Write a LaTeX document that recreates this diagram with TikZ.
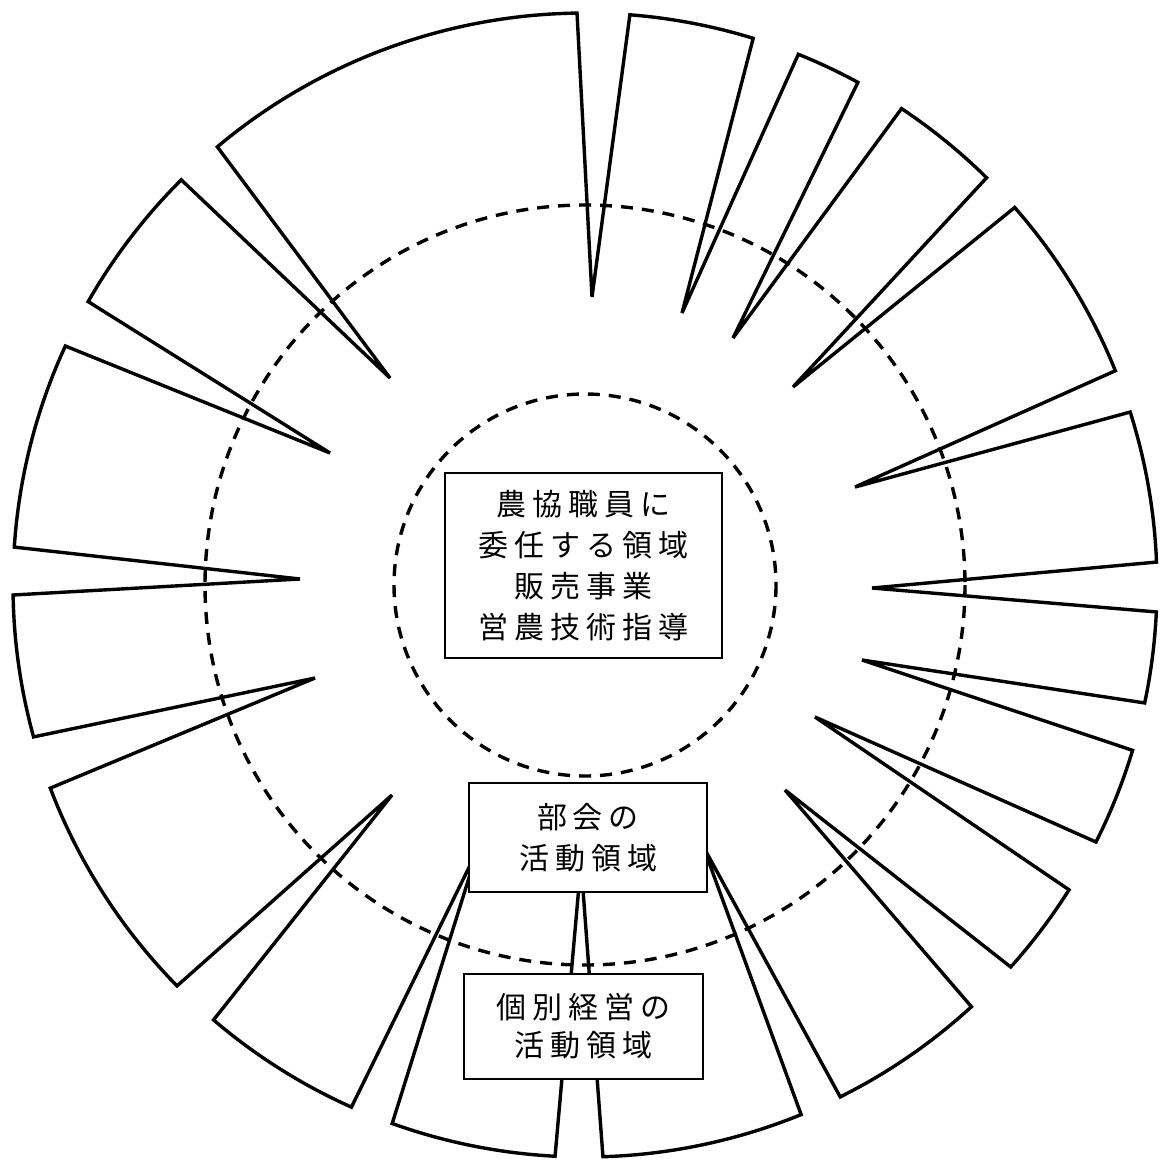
\documentclass[tikz,border=0pt]{standalone}
\usepackage{fontspec}
\newfontfamily\jp[LetterSpace=20]{Noto Sans CJK JP}
\begin{document}
\begin{tikzpicture}[x=1pt,y=-1pt,
  ring/.style={line width=3.4pt, line join=miter},
  dashcirc/.style={line width=3.4pt, dash pattern=on 12pt off 9pt},
  box/.style={draw, line width=1.6pt, fill=white, inner sep=0pt, align=center}]
\useasboundingbox (0,0) rectangle (1174,1160);
\coordinate (O) at (585,585);
% outline of sectors with inward notches
\draw[ring] (592,297)
  -- ([shift={(585,585)}]-85.5:572) arc[start angle=-85.5, end angle=-72.9, radius=572]
  -- (682,313)
  -- ([shift={(585,585)}]-68.1:572) arc[start angle=-68.1, end angle=-61.5, radius=572]
  -- (733,338)
  -- ([shift={(585,585)}]-56.4:572) arc[start angle=-56.4, end angle=-45.4, radius=572]
  -- (793,387)
  -- ([shift={(585,585)}]-41.3:572) arc[start angle=-41.3, end angle=-22.0, radius=572]
  -- (855,487)
  -- ([shift={(585,585)}]-17.6:572) arc[start angle=-17.6, end angle=-2.3, radius=572]
  -- (872,588)
  -- ([shift={(585,585)}]2.7:572) arc[start angle=2.7, end angle=11.9, radius=572]
  -- (862,660)
  -- ([shift={(585,585)}]16.8:572) arc[start angle=16.8, end angle=26.7, radius=572]
  -- (815,717)
  -- ([shift={(585,585)}]32.2:572) arc[start angle=32.2, end angle=41.9, radius=572]
  -- (785,790)
  -- ([shift={(585,585)}]47.5:572) arc[start angle=47.5, end angle=63.5, radius=572]
  -- (703,846)
  -- ([shift={(585,585)}]67.8:572) arc[start angle=67.8, end angle=88.2, radius=572]
  -- (581,863)
  -- ([shift={(585,585)}]93.0:572) arc[start angle=93.0, end angle=109.7, radius=572]
  -- (478,849)
  -- ([shift={(585,585)}]114.1:572) arc[start angle=114.1, end angle=130.5, radius=572]
  -- (392,795)
  -- ([shift={(585,585)}]135.5:572) arc[start angle=135.5, end angle=159.2, radius=572]
  -- (315,678)
  -- ([shift={(585,585)}]164.6:572) arc[start angle=164.6, end angle=179.0, radius=572]
  -- (300,579)
  -- ([shift={(585,585)}]183.8:572) arc[start angle=183.8, end angle=204.7, radius=572]
  -- (330,453)
  -- ([shift={(585,585)}]209.7:572) arc[start angle=209.7, end angle=225.1, radius=572]
  -- (390,378)
  -- ([shift={(585,585)}]230.0:572) arc[start angle=230.0, end angle=269.2, radius=572]
  -- cycle;
% dashed circles
\draw[dashcirc] (O) circle[radius=380];
\draw[dashcirc] (O) circle[radius=191];
% boxes
\node[box, minimum width=277pt, minimum height=185pt] (center) at (583.5,565.5)
  {\begin{minipage}{277pt}\centering\jp\fontsize{30}{41}\selectfont 農協職員に\\委任する領域\\販売事業\\営農技術指導\end{minipage}};
\node[box, minimum width=238pt, minimum height=109pt] (bukai) at (588,837.5)
  {\begin{minipage}{238pt}\centering\jp\fontsize{30}{41}\selectfont 部会の\\活動領域\end{minipage}};
\node[box, minimum width=239pt, minimum height=105pt] (kobetsu) at (583.5,1026.5)
  {\begin{minipage}{239pt}\centering\jp\fontsize{30}{38}\selectfont 個別経営の\\活動領域\end{minipage}};
\end{tikzpicture}
\end{document}
